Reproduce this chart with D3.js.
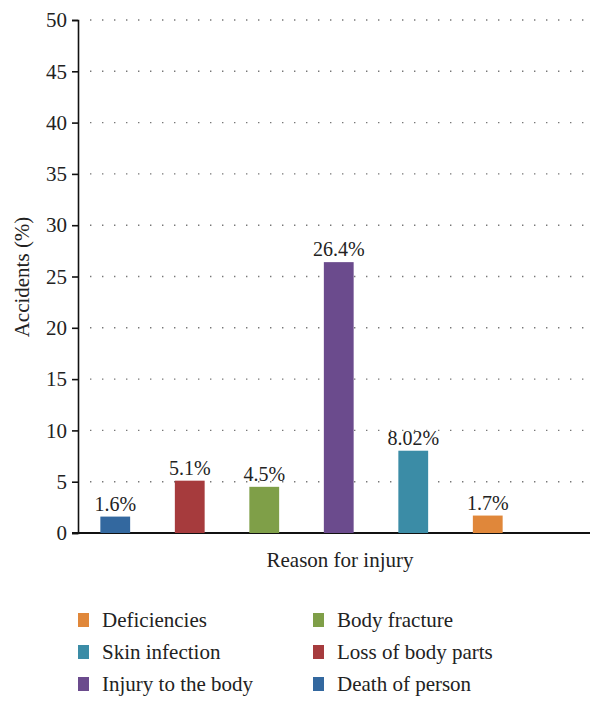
<!DOCTYPE html>
<html>
<head>
<meta charset="utf-8">
<script src="https://cdn.jsdelivr.net/npm/d3@7"></script>
<style>
  body { margin: 0; background: #fff; }
</style>
</head>
<body>
<div id="chart"></div>
<script>
// bars in drawing order
const categories = ["Death of person", "Loss of body parts", "Body fracture",
  "Injury to the body", "Skin infection", "Deficiencies"];
const values = [1.6, 5.1, 4.5, 26.4, 8.02, 1.7];
const valueLabels = ["1.6%", "5.1%", "4.5%", "26.4%", "8.02%", "1.7%"];
const colors = ["#33689f", "#a63b3d", "#7f9f48", "#6b4b8d", "#3b8ca6", "#e0873a"];
const yTicks = [0, 5, 10, 15, 20, 25, 30, 35, 40, 45, 50];
// legend order (two columns)
const legendItems = ["Deficiencies", "Skin infection", "Injury to the body",
  "Body fracture", "Loss of body parts", "Death of person"];

const FONT = "'Liberation Serif', 'DejaVu Serif', 'Times New Roman', serif";
const W = 590, H = 706;
const m = { l: 78, t: 20, b: 533 };
const svg = d3.select("#chart").append("svg").attr("width", W).attr("height", H)
  .style("font-family", FONT);

const x = d3.scaleBand().domain(categories)
  .range([m.l, m.l + 74.5 * 6]).paddingInner(0.6).paddingOuter(0.3);
const y = d3.scaleLinear().domain([0, 50]).range([m.b, m.t]);
const color = d3.scaleOrdinal().domain(categories).range(colors);

// dotted grid
svg.append("g").selectAll("line").data(yTicks.filter(d => d > 0)).join("line")
  .attr("x1", m.l + 12).attr("x2", W)
  .attr("y1", d => y(d)).attr("y2", d => y(d))
  .attr("stroke", "#777").attr("stroke-width", 1.4)
  .attr("stroke-dasharray", "1.4,10.6");

// y axis
const ay = svg.append("g").attr("transform", `translate(${m.l},0)`)
  .call(d3.axisLeft(y).tickValues(yTicks).tickSize(6).tickPadding(5));
ay.attr("font-family", null);
ay.select(".domain").attr("stroke", "#111").attr("stroke-width", 1.6);
ay.selectAll(".tick line").attr("stroke", "#111").attr("stroke-width", 1.6);
ay.selectAll(".tick text").style("font-family", FONT).attr("font-size", 21).attr("fill", "#222");

// x axis line
svg.append("line").attr("x1", m.l - 6).attr("x2", W)
  .attr("y1", y(0)).attr("y2", y(0)).attr("stroke", "#111").attr("stroke-width", 1.8);

// bars
svg.append("g").selectAll("rect").data(categories).join("rect")
  .attr("x", d => x(d)).attr("width", x.bandwidth())
  .attr("y", (d, i) => y(values[i])).attr("height", (d, i) => y(0) - y(values[i]))
  .attr("fill", d => color(d));

// value labels
svg.append("g").selectAll("text").data(categories).join("text")
  .attr("x", d => x(d) + x.bandwidth() / 2)
  .attr("y", (d, i) => y(values[i]) - 6)
  .attr("text-anchor", "middle").attr("font-size", 20).attr("fill", "#222")
  .text((d, i) => valueLabels[i]);

// axis titles
svg.append("text").attr("x", 340).attr("y", 567).attr("text-anchor", "middle")
  .attr("font-size", 21).attr("fill", "#222").text("Reason for injury");
svg.append("text").attr("transform", "translate(29,277) rotate(-90)")
  .attr("text-anchor", "middle").attr("font-size", 21).attr("fill", "#222").text("Accidents (%)");

// legend
const lg = svg.append("g").selectAll("g").data(legendItems).join("g")
  .attr("transform", (d, i) => `translate(${i < 3 ? 78 : 313},${627 + (i % 3) * 32})`);
lg.append("rect").attr("x", 0).attr("y", -14).attr("width", 11).attr("height", 14)
  .attr("fill", d => color(d));
lg.append("text").attr("x", 24).attr("y", 0).attr("font-size", 21).attr("fill", "#222").text(d => d);
</script>
</body>
</html>
